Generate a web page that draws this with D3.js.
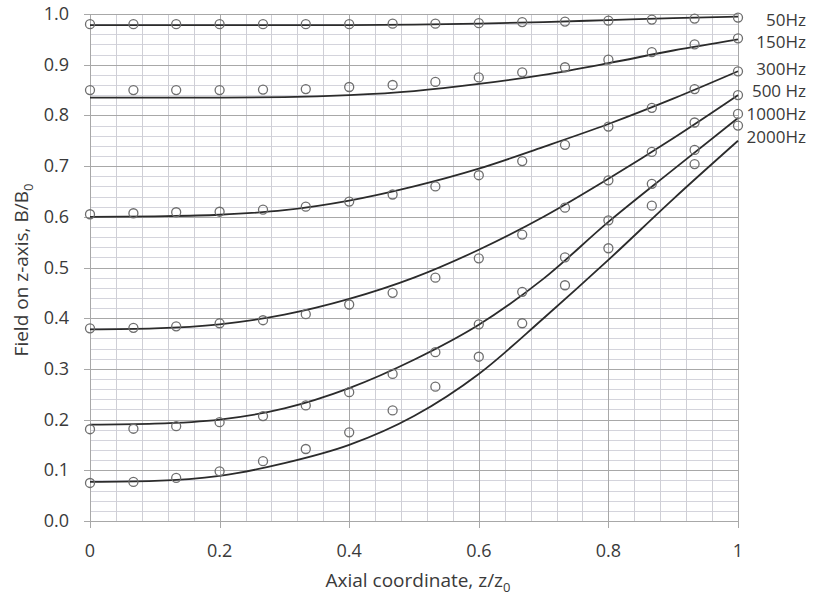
<!DOCTYPE html>
<html>
<head>
<meta charset="utf-8">
<script src="https://cdn.jsdelivr.net/npm/d3@7"></script>
<style>
  body { margin: 0; background: #fff; }
  text { font-family: 'Open Sans', 'Noto Sans', sans-serif; fill: #3a3a3a; }
</style>
</head>
<body>
<svg id="chart" width="813" height="604"></svg>
<script>
// frequencies shown at the right of the plot
const labels = ['50Hz', '150Hz', '300Hz', '500 Hz', '1000Hz', '2000Hz']

// computed curves, sampled at z/z0
const lineX = [0, 0.1, 0.2, 0.3, 0.4, 0.5, 0.6, 0.7, 0.8, 0.9, 1]
const line50 = [0.978, 0.978, 0.978, 0.978, 0.978, 0.979, 0.981, 0.984, 0.988, 0.992, 0.995]
const line150 = [0.835, 0.835, 0.835, 0.836, 0.84, 0.848, 0.862, 0.88, 0.903, 0.928, 0.95]
const line300 = [0.6, 0.601, 0.604, 0.613, 0.632, 0.66, 0.695, 0.738, 0.783, 0.833, 0.887]
const line500 = [0.378, 0.38, 0.388, 0.407, 0.438, 0.48, 0.535, 0.6, 0.675, 0.755, 0.84]
const line1000 = [0.19, 0.192, 0.2, 0.222, 0.262, 0.318, 0.387, 0.478, 0.59, 0.693, 0.795]
const line2000 = [0.077, 0.079, 0.089, 0.114, 0.15, 0.207, 0.29, 0.4, 0.515, 0.635, 0.75]

// measured points
const pointX = [0, 0.067, 0.133, 0.2, 0.267, 0.333, 0.4, 0.467, 0.533, 0.6, 0.667, 0.733, 0.8, 0.867, 0.933, 1]
const pts50 = [0.98, 0.98, 0.98, 0.98, 0.98, 0.98, 0.98, 0.981, 0.981, 0.982, 0.984, 0.985, 0.987, 0.989, 0.991, 0.993]
const pts150 = [0.85, 0.85, 0.85, 0.85, 0.851, 0.852, 0.856, 0.86, 0.866, 0.875, 0.885, 0.895, 0.91, 0.925, 0.94, 0.952]
const pts300 = [0.605, 0.607, 0.609, 0.61, 0.614, 0.62, 0.63, 0.644, 0.66, 0.682, 0.71, 0.742, 0.778, 0.815, 0.852, 0.887]
const pts500 = [0.38, 0.381, 0.384, 0.39, 0.396, 0.408, 0.427, 0.45, 0.48, 0.518, 0.565, 0.618, 0.672, 0.728, 0.786, 0.84]
const pts1000 = [0.181, 0.182, 0.187, 0.195, 0.207, 0.228, 0.254, 0.29, 0.333, 0.388, 0.452, 0.52, 0.593, 0.665, 0.732, 0.803]
const pts2000 = [0.075, 0.077, 0.085, 0.098, 0.118, 0.142, 0.175, 0.218, 0.265, 0.324, 0.39, 0.465, 0.538, 0.622, 0.704, 0.78]

const xTicks = [0, 0.2, 0.4, 0.6, 0.8, 1]
const xTickLabels = ['0', '0.2', '0.4', '0.6', '0.8', '1']
const yTicks = [0, 0.1, 0.2, 0.3, 0.4, 0.5, 0.6, 0.7, 0.8, 0.9, 1]

const lines = [line50, line150, line300, line500, line1000, line2000]
const points = [pts50, pts150, pts300, pts500, pts1000, pts2000]

const svg = d3.select('#chart'),
  x = d3.scaleLinear().domain([0, 1]).range([90, 738]),
  y = d3.scaleLinear().domain([0, 1]).range([521, 14])

// grid: minor first, major on top
const grid = svg.append('g').attr('shape-rendering', 'crispEdges')
grid.selectAll('.hmin')
  .data(d3.range(0, 51).map((i) => i / 50))
  .enter().append('line')
  .attr('x1', x(0)).attr('x2', x(1))
  .attr('y1', (d) => Math.round(y(d)) + 0.5).attr('y2', (d) => Math.round(y(d)) + 0.5)
  .attr('stroke', '#d4d4dc')
grid.selectAll('.vmin')
  .data(d3.range(0, 26).map((i) => i / 25))
  .enter().append('line')
  .attr('y1', y(0)).attr('y2', y(1))
  .attr('x1', (d) => Math.round(x(d)) + 0.5).attr('x2', (d) => Math.round(x(d)) + 0.5)
  .attr('stroke', '#cfcfd6')
grid.selectAll('.hmaj')
  .data(yTicks)
  .enter().append('line')
  .attr('x1', x(0) - 6).attr('x2', x(1))
  .attr('y1', (d) => Math.round(y(d)) + 0.5).attr('y2', (d) => Math.round(y(d)) + 0.5)
  .attr('stroke', '#a8a8a8')
grid.selectAll('.vmaj')
  .data(xTicks)
  .enter().append('line')
  .attr('y1', y(0) + 7).attr('y2', y(1))
  .attr('x1', (d) => Math.round(x(d)) + 0.5).attr('x2', (d) => Math.round(x(d)) + 0.5)
  .attr('stroke', '#a8a8a8')

// tick labels
svg.append('g').selectAll('text')
  .data(yTicks)
  .enter().append('text')
  .attr('x', 69)
  .attr('y', (d) => y(d) + 6)
  .attr('text-anchor', 'end')
  .style('font-size', '18px')
  .text((d) => d.toFixed(1))

svg.append('g').selectAll('text')
  .data(xTicks)
  .enter().append('text')
  .attr('x', (d) => x(d))
  .attr('y', 557)
  .attr('text-anchor', 'middle')
  .style('font-size', '18px')
  .text((d, i) => xTickLabels[i])

// axis titles
const xt = svg.append('text')
  .attr('x', 418).attr('y', 587)
  .attr('text-anchor', 'middle')
  .style('font-size', '19px')
xt.append('tspan').text('Axial coordinate,  z/z')
xt.append('tspan').attr('dy', 5).style('font-size', '13px').text('0')

const yt = svg.append('text')
  .attr('transform', 'translate(28, 270) rotate(-90)')
  .attr('text-anchor', 'middle')
  .style('font-size', '19px')
yt.append('tspan').text('Field on z-axis, B/B')
yt.append('tspan').attr('dy', 5).style('font-size', '13px').text('0')

// curves
const lineGen = d3.line()
  .curve(d3.curveMonotoneX)
  .x((d, i) => x(lineX[i]))
  .y((d) => y(d))

svg.append('g')
  .attr('fill', 'none')
  .attr('stroke', '#2b2b2b')
  .attr('stroke-width', 1.8)
  .selectAll('path')
  .data(lines)
  .enter().append('path')
  .attr('d', (d) => lineGen(d))

// measured points as open circles
svg.append('g')
  .attr('fill', 'none')
  .attr('stroke', '#6e6e6e')
  .attr('stroke-width', 1.3)
  .selectAll('g')
  .data(points)
  .enter().append('g')
  .selectAll('circle')
  .data((d) => d)
  .enter().append('circle')
  .attr('cx', (d, i) => x(pointX[i]))
  .attr('cy', (d) => y(d))
  .attr('r', 4.5)

// frequency labels
const labelY = [26, 48, 75, 97, 120, 143]
svg.append('g').selectAll('text')
  .data(labels)
  .enter().append('text')
  .attr('x', 806)
  .attr('y', (d, i) => labelY[i])
  .attr('text-anchor', 'end')
  .style('font-size', '17px')
  .text((d) => d)
</script>
</body>
</html>
